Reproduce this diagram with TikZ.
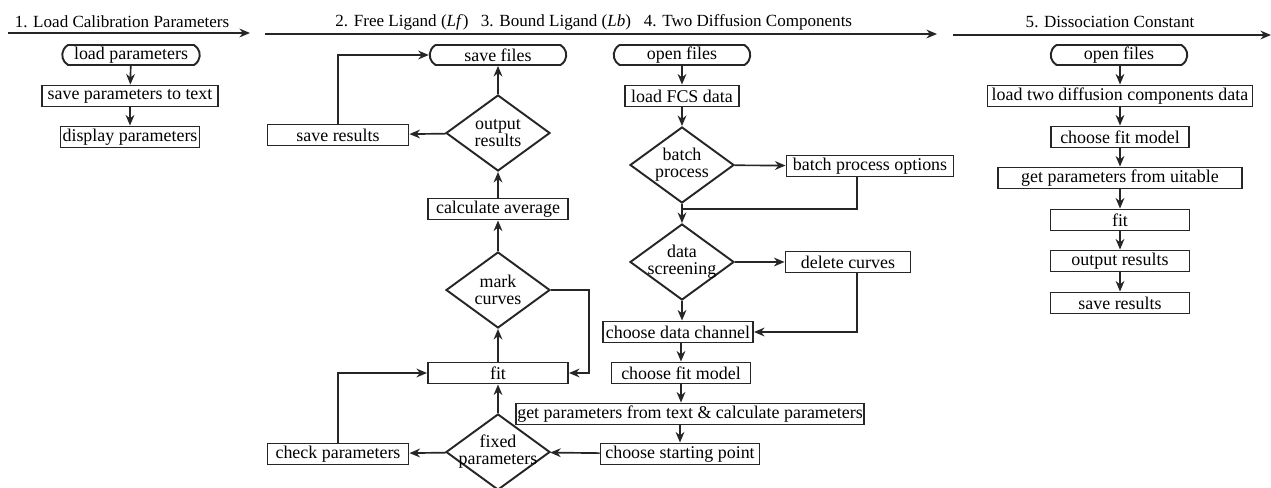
\documentclass[tikz,border=0pt]{standalone}
\usepackage{amsmath}
\usepackage{fontspec}
\setmainfont{Liberation Serif}
\usepackage{tikz}
\usetikzlibrary{calc,arrows.meta,shapes.geometric,shapes.misc}

\begin{document}
\begin{tikzpicture}[
        font=\fontsize{10.2}{9.6}\selectfont,
        box/.style={draw=black!85, line width=1.1pt, minimum height=0.42cm, inner sep=1pt},
        term/.style={draw=black!85, line width=1.1pt, rounded rectangle, rounded rectangle arc length=120, minimum height=0.4cm, inner sep=1pt},
        dec/.style={draw=black!85, line width=1.1pt, diamond, shape aspect=1.37, minimum width=2.08cm, minimum height=1.52cm, inner xsep=-0.25cm, inner ysep=0pt, align=center},
        line/.style={line width=0.95pt, draw=black!85},
        arr/.style={line, -{Stealth[length=6pt,width=5pt]}},
        head/.style={inner sep=0pt, font=\fontsize{9.7}{10}\selectfont}
    ]
                    \useasboundingbox (0,0) rectangle (25.42,-9.76);

                    \node[head] (t1) at (2.44,-0.44) {1. Load Calibration Parameters};
                    \coordinate (a1s) at (0.16,-0.66);
                    \coordinate (a1e) at (5.0,-0.66);
                    \draw[arr] (a1s) -- (a1e);
                    \node[head] (t2) at (8.04,-0.44) {2. Free Ligand (\textit{Lf})};
                    \node[head] (t3) at (11.12,-0.44) {3. Bound Ligand (\textit{Lb})};
                    \node[head] (t4) at (14.96,-0.44) {4. Two Diffusion Components};
                    \coordinate (a2s) at (5.3,-0.68);
                    \coordinate (a2e) at (18.74,-0.68);
                    \draw[arr] (a2s) -- (a2e);
                    \node[head] (t5) at (22.2,-0.44) {5. Dissociation Constant};
                    \coordinate (a3s) at (19.06,-0.7);
                    \coordinate (a3e) at (25.42,-0.7);
                    \draw[arr] (a3s) -- (a3e);

                    \node[term, minimum width=2.82cm] (lp) at (2.62,-1.1) {load parameters};
                    \node[box, minimum width=3.52cm] (spt) at (2.6,-1.92) {save parameters to text};
                    \node[box, minimum width=2.78cm] (dp) at (2.6,-2.74) {display parameters};
                    \draw[arr] (lp) -- (spt);
                    \draw[arr] (spt) -- (dp);

                    \node[term, minimum width=2.8cm] (sf) at (9.96,-1.1) {save files};
                    \node[dec] (outr) at (9.96,-2.66) {output\\results};
                    \node[box, minimum width=2.82cm] (sr) at (6.76,-2.7) {save results};
                    \node[box, minimum width=2.8cm] (avg) at (9.96,-4.18) {calculate average};
                    \node[dec] (mark) at (9.96,-5.8) {mark\\curves};
                    \node[box, minimum width=2.8cm] (fit) at (9.96,-7.46) {fit};
                    \node[dec] (fixp) at (9.96,-9.04) {fixed\\parameters};
                    \node[box, minimum width=2.82cm] (chk) at (6.76,-9.08) {check parameters};

                    \draw[arr] (outr) -- (sf);
                    \draw[arr] (outr) -- (sr);
                    \draw[arr] (sr.north) |- (sf.west);
                    \draw[arr] (avg) -- (outr);
                    \draw[arr] (mark) -- (avg);
                    \draw[arr] (fit) -- (mark);
                    \draw[arr] (mark.east) -- ++(0.76,0) |- (fit.east);
                    \draw[arr] (fixp) -- (fit);
                    \draw[arr] (fixp) -- (chk);
                    \draw[arr] (chk.north) |- (fit.west);

                    \node[term, minimum width=2.8cm] (of) at (13.64,-1.1) {open files};
                    \node[box, minimum width=2.28cm] (fcs) at (13.64,-1.92) {load FCS data};
                    \node[dec] (bp) at (13.64,-3.3) {batch\\process};
                    \node[box, minimum width=3.34cm] (bpo) at (17.4,-3.32) {batch process options};
                    \node[dec] (scr) at (13.64,-5.24) {data\\screening};
                    \node[box, minimum width=2.5cm] (dc) at (16.96,-5.24) {delete curves};
                    \node[box, minimum width=3.0cm] (chan) at (13.56,-6.64) {choose data channel};
                    \node[box, minimum width=2.78cm] (fm) at (13.62,-7.46) {choose fit model};
                    \node[box, minimum width=6.92cm] (gp) at (13.8,-8.28) {get parameters from text \& calculate parameters};
                    \node[box, minimum width=3.18cm] (sp) at (13.6,-9.08) {choose starting point};

                    \draw[arr] (of) -- (fcs);
                    \draw[arr] (fcs) -- (bp);
                    \draw[arr] (bp) -- (bpo);
                    \draw[arr] (bp) -- (scr);
                    \draw[line] ($(bpo.south)+(-0.26,0)$) |- ($(bp.south)!0.26!(scr.north)$);
                    \draw[arr] (scr) -- (dc);
                    \draw[arr] (scr.south) -- (scr.south |- chan.north);
                    \draw[arr] ($(dc.south)+(0.18,0)$) |- (chan.east);
                    \draw[arr] (chan.south -| fm.north) -- (fm.north);
                    \draw[arr] (fm.south) -- (fm.south |- gp.north);
                    \draw[arr] (sp.north |- gp.south) -- (sp.north);
                    \draw[arr] (sp) -- (fixp);

                    \node[term, minimum width=2.8cm] (of2) at (22.38,-1.1) {open files};
                    \node[box, minimum width=5.3cm] (ld2) at (22.4,-1.92) {load two diffusion components data};
                    \node[box, minimum width=2.76cm] (fm2) at (22.4,-2.74) {choose fit model};
                    \node[box, minimum width=4.88cm] (gp2) at (22.4,-3.56) {get parameters from uitable};
                    \node[box, minimum width=2.78cm] (fit2) at (22.4,-4.4) {fit};
                    \node[box, minimum width=2.78cm] (or2) at (22.4,-5.22) {output results};
                    \node[box, minimum width=2.78cm] (sr2) at (22.4,-6.06) {save results};

                    \draw[arr] (of2.south -| ld2.north) -- (ld2.north);
                    \draw[arr] (ld2) -- (fm2);
                    \draw[arr] (fm2) -- (gp2);
                    \draw[arr] (gp2) -- (fit2);
                    \draw[arr] (fit2) -- (or2);
                    \draw[arr] (or2) -- (sr2);
                \end{tikzpicture}
\end{document}
